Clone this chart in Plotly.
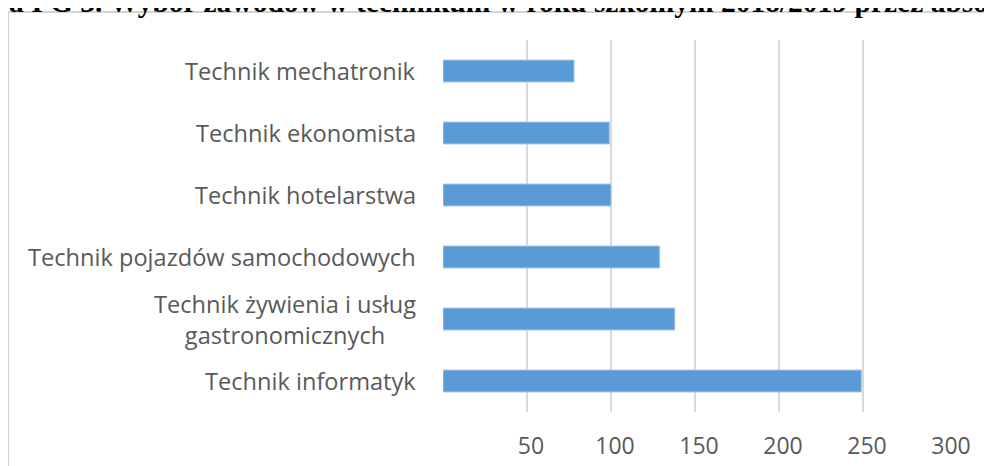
import plotly.graph_objects as go

categories = [
    "Technik informatyk",
    "Technik żywienia i usług<br>gastronomicznych",
    "Technik pojazdów samochodowych",
    "Technik hotelarstwa",
    "Technik ekonomista",
    "Technik mechatronik",
]
values = [249, 138, 129, 100, 99, 78]
tick_vals = [0, 50, 100, 150, 200, 250, 300]
tick_text = ["", "50", "100", "150", "200", "250", "300"]
title_text = "a I G 3. Wybór zawodów w technikum w roku szkolnym 2018/2019 przez absolwentów"

label_color = "#595959"
font_family = "Open Sans"

fig = go.Figure()
fig.add_trace(go.Bar(
    x=values,
    y=categories,
    orientation="h",
    width=0.355,
    marker=dict(color="#5B9BD5", line=dict(color="#a9c8ea", width=1)),
    showlegend=False,
    hoverinfo="x+y",
))

annotations = []
for c in categories:
    annotations.append(dict(
        x=0, xref="paper", xanchor="right", xshift=-25,
        y=c, yref="y", yanchor="middle",
        text=c, showarrow=False, align="center",
        font=dict(family=font_family, size=23.6, color=label_color),
    ))
annotations.append(dict(
    x=0, xref="paper", xanchor="left", xshift=-436,
    y=1, yref="paper", yanchor="bottom", yshift=20,
    text="<b>" + title_text + "</b>", showarrow=False,
    font=dict(family="Liberation Serif", size=29.5, color="#000000"),
))

fig.update_layout(
    width=984, height=458,
    margin=dict(l=435, r=45, t=32, b=54, autoexpand=False),
    paper_bgcolor="white", plot_bgcolor="white",
    xaxis=dict(
        range=[0, 300], tickvals=tick_vals, ticktext=tick_text,
        showgrid=True, gridcolor="#d9d9d9", gridwidth=1.5,
        zeroline=False, showline=False, ticks="", automargin=False,
        tickfont=dict(family=font_family, size=23, color=label_color),
        ticklabelstandoff=18, ticklabelshift=4,
    ),
    yaxis=dict(
        showticklabels=False, showgrid=False, zeroline=False, ticks="",
        range=[-0.5, 5.5], automargin=False,
    ),
    annotations=annotations,
    shapes=[dict(
        type="rect", xref="paper", yref="paper",
        x0=-0.863, x1=1.3, y0=-0.3, y1=1.0753,
        line=dict(color="#d4d4d4", width=2), fillcolor="rgba(0,0,0,0)",
        layer="above",
    )],
)

fig.write_html("out.html")
